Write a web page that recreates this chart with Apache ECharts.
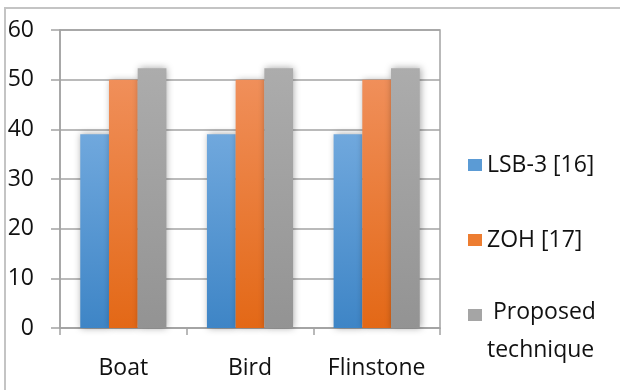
<!DOCTYPE html>
<html>
<head>
<meta charset="utf-8">
<script src="https://cdn.jsdelivr.net/npm/echarts@6/dist/echarts.min.js"></script>
<style>
  html, body { margin: 0; padding: 0; background: #fff; }
  #chart { width: 620px; height: 390px; }
</style>
</head>
<body>
<div id="chart"></div>
<script>
// Images compared
const categories = ['Boat', 'Bird', 'Flinstone'];
// Series values per image
const lsb3Values = [39, 39, 39];
const zohValues = [50, 50, 50];
const proposedValues = [52.3, 52.3, 52.3];
// Series names
const seriesNames = ['LSB-3 [16]', 'ZOH [17]', 'Proposed technique'];
// Y axis range
const yMin = 0, yMax = 60, yStep = 10;

const FONT = '"Open Sans", sans-serif';
const FONT_SIZE = 23;
const TEXT = '#111111';
const GRID_COLOR = '#a3a3a3';

function grad(top, bottom) {
  return new echarts.graphic.LinearGradient(0, 0, 0, 1, [
    { offset: 0, color: top },
    { offset: 1, color: bottom }
  ]);
}

const barStyles = [
  { top: '#70a8dd', bottom: '#3e85c6', flat: '#5b9bd5' },
  { top: '#f08f5a', bottom: '#e36816', flat: '#ed7d31' },
  { top: '#acacac', bottom: '#939393', flat: '#a5a5a5' }
];
const seriesData = [lsb3Values, zohValues, proposedValues];

function legendFor(i, top, formatter, rich) {
  return {
    orient: 'vertical',
    left: 468,
    top: top,
    icon: 'rect',
    itemWidth: 14,
    itemHeight: 12,
    itemGap: 0,
    padding: 0,
    selectedMode: false,
    data: [{ name: seriesNames[i], itemStyle: { color: barStyles[i].flat } }],
    formatter: formatter,
    textStyle: {
      fontFamily: FONT, fontSize: FONT_SIZE, color: TEXT,
      lineHeight: 26,
      rich: rich
    }
  };
}

// Two-line entry: a spacer line on top keeps the marker level with "Proposed"
const proposedRich = {
  s: { fontSize: 4, lineHeight: 32 },
  a: { fontFamily: FONT, fontSize: FONT_SIZE, color: TEXT, lineHeight: 38 }
};

const chart = echarts.init(document.getElementById('chart'), null, { renderer: 'canvas' });
chart.setOption({
  animation: false,
  backgroundColor: '#ffffff',
  grid: {
    left: 60, right: 180, top: 30, bottom: 62,
    show: true, borderColor: GRID_COLOR, borderWidth: 1.5,
    containLabel: false
  },
  graphic: [{
    type: 'rect',
    shape: { x: 5, y: 8, width: 800, height: 600 },
    style: { fill: 'none', stroke: '#c4c4c4', lineWidth: 2 },
    silent: true,
    z: -1
  }],
  legend: [
    legendFor(0, 152),
    legendFor(1, 227),
    legendFor(2, 261, () => '{s| }\n{a| Proposed}\n{a|technique}', proposedRich)
  ],
  xAxis: {
    type: 'category',
    data: categories,
    axisLine: { show: true, lineStyle: { color: GRID_COLOR, width: 1.5 } },
    axisTick: { show: true, length: 7, lineStyle: { color: GRID_COLOR, width: 1.5 } },
    axisLabel: {
      interval: 0, hideOverlap: false,
      fontFamily: FONT, fontSize: FONT_SIZE, color: TEXT, margin: 29, lineHeight: 22
    }
  },
  yAxis: {
    type: 'value',
    min: yMin, max: yMax, interval: yStep,
    axisLine: { show: true, lineStyle: { color: GRID_COLOR, width: 1.5 } },
    axisTick: { show: true, length: 9, lineStyle: { color: GRID_COLOR, width: 1.5 } },
    splitLine: { show: true, lineStyle: { color: GRID_COLOR, width: 1.5 } },
    axisLabel: { fontFamily: FONT, fontSize: FONT_SIZE, color: TEXT, margin: 26 }
  },
  series: seriesData.map((vals, i) => ({
    name: seriesNames[i],
    type: 'bar',
    data: vals,
    barGap: '0%',
    barCategoryGap: '32%',
    itemStyle: {
      color: grad(barStyles[i].top, barStyles[i].bottom),
      shadowBlur: 7,
      shadowColor: 'rgba(0,0,0,0.35)',
      shadowOffsetX: 1,
      shadowOffsetY: 0
    },
    z: 2 + i
  }))
});
</script>
</body>
</html>
